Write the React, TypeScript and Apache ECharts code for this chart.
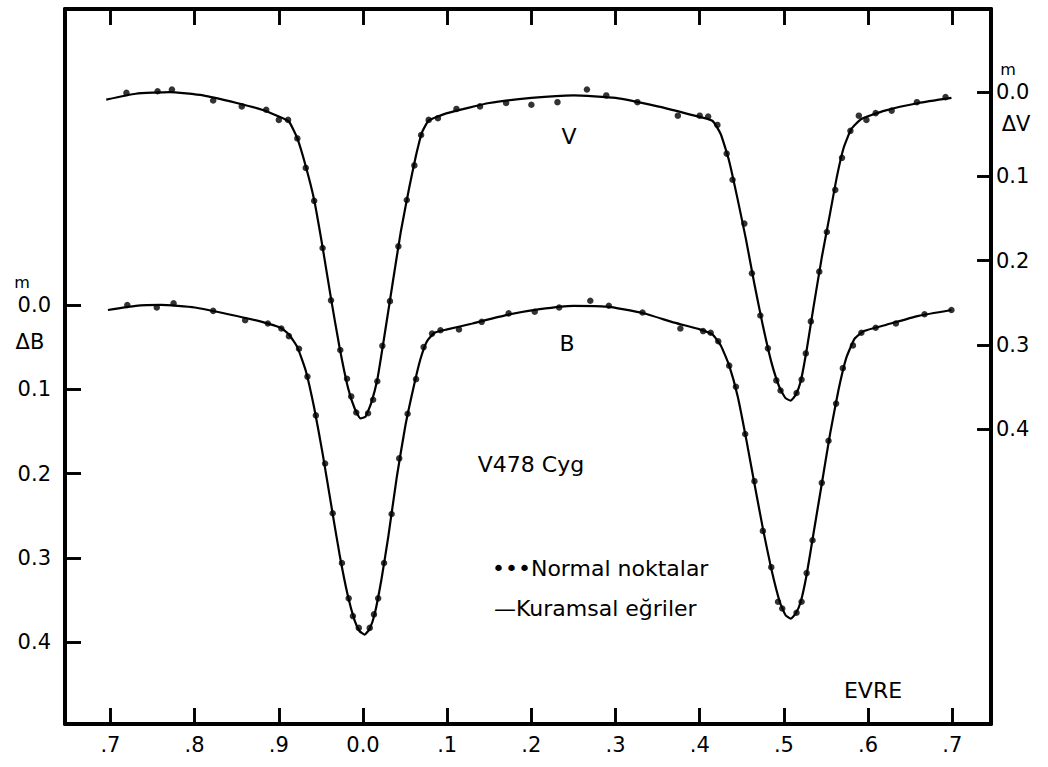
import React, { useEffect, useRef } from "react";
import * as echarts from "echarts";

// Phase tick positions and their printed labels
const phaseTicks = [-0.3, -0.2, -0.1, 0.0, 0.1, 0.2, 0.3, 0.4, 0.5, 0.6, 0.7];
const phaseTickLabels = [".7", ".8", ".9", "0.0", ".1", ".2", ".3", ".4", ".5", ".6", ".7"];
const magTicks = [0.0, 0.1, 0.2, 0.3, 0.4];

// V band: normal points [phase, ΔV]
const vPoints: [number, number][] = [
  [-0.281, 0.001], [-0.244, -0.001], [-0.227, -0.003], [-0.178, 0.010], [-0.144, 0.017],
  [-0.115, 0.021], [-0.100, 0.033], [-0.089, 0.033], [-0.078, 0.055], [-0.068, 0.090],
  [-0.058, 0.129], [-0.048, 0.185], [-0.038, 0.247], [-0.027, 0.306], [-0.019, 0.340],
  [-0.014, 0.361], [-0.008, 0.380], [0.006, 0.381], [0.012, 0.365], [0.017, 0.343],
  [0.023, 0.301], [0.032, 0.248], [0.042, 0.183], [0.052, 0.128], [0.061, 0.087],
  [0.069, 0.051], [0.078, 0.033], [0.089, 0.031], [0.111, 0.020], [0.139, 0.017],
  [0.170, 0.013], [0.200, 0.015], [0.231, 0.012], [0.266, -0.003], [0.289, 0.004],
  [0.326, 0.012], [0.374, 0.028], [0.400, 0.028], [0.410, 0.029], [0.421, 0.039],
  [0.432, 0.073], [0.439, 0.104], [0.453, 0.156], [0.462, 0.215], [0.472, 0.265],
  [0.481, 0.304], [0.491, 0.342], [0.496, 0.354], [0.515, 0.357], [0.521, 0.341],
  [0.526, 0.310], [0.532, 0.272], [0.542, 0.213], [0.551, 0.166], [0.561, 0.116],
  [0.569, 0.078], [0.579, 0.046], [0.589, 0.028], [0.598, 0.033], [0.609, 0.025],
  [0.628, 0.022], [0.658, 0.012], [0.692, 0.006],
];

// V band: theoretical curve [phase, ΔV]
const vCurve: [number, number][] = [
  [-0.305, 0.009], [-0.27, 0.002], [-0.23, 0.000], [-0.19, 0.004], [-0.15, 0.013],
  [-0.12, 0.021], [-0.10, 0.029], [-0.088, 0.035], [-0.078, 0.055], [-0.068, 0.088],
  [-0.058, 0.128], [-0.048, 0.184], [-0.038, 0.245], [-0.028, 0.302], [-0.018, 0.350],
  [-0.010, 0.375], [-0.003, 0.387], [0.003, 0.385], [0.010, 0.368], [0.017, 0.341],
  [0.025, 0.292], [0.035, 0.228], [0.045, 0.165], [0.055, 0.113], [0.063, 0.075],
  [0.070, 0.048], [0.078, 0.034], [0.10, 0.025], [0.15, 0.013], [0.20, 0.007],
  [0.25, 0.004], [0.30, 0.007], [0.35, 0.017], [0.39, 0.027], [0.415, 0.034],
  [0.425, 0.050], [0.435, 0.082], [0.445, 0.127], [0.455, 0.175], [0.465, 0.228],
  [0.475, 0.277], [0.485, 0.320], [0.495, 0.351], [0.502, 0.363], [0.508, 0.366],
  [0.514, 0.359], [0.520, 0.343], [0.527, 0.306], [0.535, 0.256], [0.545, 0.196],
  [0.555, 0.143], [0.563, 0.100], [0.571, 0.066], [0.580, 0.044], [0.592, 0.032],
  [0.62, 0.022], [0.66, 0.013], [0.699, 0.007],
];

// B band: normal points [phase, ΔB]
const bPoints: [number, number][] = [
  [-0.280, 0.000], [-0.245, 0.003], [-0.225, -0.002], [-0.178, 0.007], [-0.140, 0.018],
  [-0.113, 0.022], [-0.097, 0.028], [-0.088, 0.037], [-0.076, 0.052], [-0.066, 0.085],
  [-0.056, 0.131], [-0.045, 0.188], [-0.036, 0.247], [-0.025, 0.306], [-0.017, 0.348],
  [-0.012, 0.369], [-0.005, 0.383], [0.008, 0.383], [0.013, 0.367], [0.018, 0.348],
  [0.025, 0.306], [0.034, 0.248], [0.043, 0.182], [0.053, 0.129], [0.063, 0.088],
  [0.072, 0.050], [0.082, 0.034], [0.092, 0.030], [0.114, 0.029], [0.141, 0.020],
  [0.173, 0.010], [0.204, 0.008], [0.233, 0.003], [0.270, -0.005], [0.292, 0.001],
  [0.332, 0.009], [0.377, 0.028], [0.404, 0.031], [0.413, 0.033], [0.422, 0.043],
  [0.435, 0.072], [0.443, 0.097], [0.454, 0.153], [0.465, 0.209], [0.475, 0.268],
  [0.485, 0.311], [0.493, 0.352], [0.498, 0.360], [0.515, 0.365], [0.521, 0.352],
  [0.527, 0.318], [0.534, 0.279], [0.545, 0.211], [0.553, 0.161], [0.562, 0.117],
  [0.570, 0.075], [0.582, 0.048], [0.592, 0.033], [0.609, 0.027], [0.633, 0.022],
  [0.667, 0.011], [0.699, 0.006],
];

// B band: theoretical curve [phase, ΔB]
const bCurve: [number, number][] = [
  [-0.303, 0.006], [-0.27, 0.001], [-0.24, 0.000], [-0.20, 0.003], [-0.16, 0.011],
  [-0.12, 0.020], [-0.098, 0.027], [-0.088, 0.035], [-0.078, 0.050], [-0.068, 0.078],
  [-0.058, 0.122], [-0.048, 0.176], [-0.038, 0.236], [-0.028, 0.295], [-0.018, 0.345],
  [-0.010, 0.374], [-0.004, 0.387], [0.002, 0.391], [0.008, 0.384], [0.014, 0.366],
  [0.022, 0.325], [0.030, 0.275], [0.040, 0.205], [0.050, 0.145], [0.060, 0.098],
  [0.068, 0.065], [0.076, 0.043], [0.085, 0.033], [0.10, 0.029], [0.13, 0.022],
  [0.17, 0.012], [0.21, 0.005], [0.25, 0.001], [0.29, 0.002], [0.33, 0.009],
  [0.37, 0.021], [0.40, 0.029], [0.415, 0.035], [0.425, 0.048], [0.435, 0.072],
  [0.445, 0.108], [0.455, 0.158], [0.465, 0.212], [0.475, 0.265], [0.485, 0.313],
  [0.495, 0.352], [0.502, 0.368], [0.508, 0.372], [0.514, 0.366], [0.520, 0.352],
  [0.527, 0.320], [0.535, 0.272], [0.545, 0.212], [0.555, 0.152], [0.565, 0.100],
  [0.574, 0.063], [0.584, 0.040], [0.595, 0.031], [0.62, 0.024], [0.66, 0.013],
  [0.699, 0.006],
];

// axis ranges (frame edges)
const X_MIN = -0.354;
const X_MAX = 0.746;
const B_MIN = -0.351;
const B_MAX = 0.497;
const V_MIN = -0.0985;
const V_MAX = 0.7495;
// tick lengths in data units (about 16 px)
const X_TICK = 0.019;
const Y_TICK = 0.019;

const FONT = "DejaVu Sans, Liberation Sans, sans-serif";

export default function App() {
  const ref = useRef<HTMLDivElement>(null);
  useEffect(() => {
    if (!ref.current) return;
    const chart = echarts.init(ref.current, null, { renderer: "svg" });
    const phaseLabel = (v: number) => {
      const i = Math.round((v + 0.3) * 10);
      return phaseTickLabels[i] ?? "";
    };
    const axisLine = { show: true, onZero: false, lineStyle: { color: "#000", width: 4 } };
    const nativeTick = (values: number[]) => ({
      show: true,
      inside: true,
      length: 16,
      customValues: values,
      lineStyle: { color: "#000", width: 2.6 },
    });
    const labelStyle = { color: "#000", fontSize: 21, fontFamily: FONT };
    const txt = (x: number, y: number, text: string, size: number, align = "center") => ({
      type: "text",
      x,
      y,
      style: { text, font: `${size}px ${FONT}`, fill: "#000", align, verticalAlign: "middle" },
    });
    const seg = (a: number[], b: number[]) => [{ coord: a }, { coord: b }];
    const bTickLines = [
      ...phaseTicks.map((v) => seg([v, B_MAX], [v, B_MAX - Y_TICK])),
      ...phaseTicks.map((v) => seg([v, B_MIN], [v, B_MIN + Y_TICK])),
      ...magTicks.map((v) => seg([X_MIN, v], [X_MIN + X_TICK, v])),
    ];
    const vTickLines = magTicks.map((v) => seg([X_MAX, v], [X_MAX - X_TICK * 0.85, v]));
    const markTicks = (data: any[]) => ({
      silent: true,
      symbol: ["none", "none"],
      label: { show: false },
      lineStyle: { color: "#000", width: 2.6, type: "solid" },
      emphasis: { disabled: true },
      data,
    });
    chart.setOption({
      animation: false,
      backgroundColor: "#fff",
      grid: { left: 65, top: 9, right: 57, bottom: 43, containLabel: false },
      xAxis: [
        {
          type: "value",
          position: "bottom",
          min: X_MIN,
          max: X_MAX,
          splitLine: { show: false },
          axisLine,
          axisTick: nativeTick(phaseTicks),
          axisLabel: { show: true, customValues: phaseTicks, formatter: phaseLabel, margin: 10, ...labelStyle },
        },
        {
          type: "value",
          position: "top",
          min: X_MIN,
          max: X_MAX,
          splitLine: { show: false },
          axisLine,
          axisTick: nativeTick(phaseTicks),
          axisLabel: { show: false },
        },
      ],
      yAxis: [
        {
          type: "value",
          position: "left",
          inverse: true,
          min: B_MIN,
          max: B_MAX,
          splitLine: { show: false },
          axisLine,
          axisTick: nativeTick(magTicks),
          axisLabel: { show: true, customValues: magTicks, formatter: (v: number) => v.toFixed(1), margin: 14, ...labelStyle },
        },
        {
          type: "value",
          position: "right",
          inverse: true,
          min: V_MIN,
          max: V_MAX,
          splitLine: { show: false },
          axisLine,
          axisTick: { ...nativeTick(magTicks), length: 14 },
          axisLabel: { show: true, customValues: magTicks, formatter: (v: number) => v.toFixed(1), margin: 5, ...labelStyle },
        },
      ],
      series: [
        {
          name: "V kuramsal",
          type: "line",
          xAxisIndex: 0,
          yAxisIndex: 1,
          data: vCurve,
          smooth: 0.15,
          showSymbol: false,
          lineStyle: { color: "#000", width: 2.2 },
          markLine: markTicks(vTickLines),
        },
        {
          name: "V normal",
          type: "scatter",
          xAxisIndex: 0,
          yAxisIndex: 1,
          data: vPoints,
          symbol: "circle",
          symbolSize: 6.5,
          itemStyle: { color: "#000" },
        },
        {
          name: "B kuramsal",
          type: "line",
          xAxisIndex: 0,
          yAxisIndex: 0,
          data: bCurve,
          smooth: 0.15,
          showSymbol: false,
          lineStyle: { color: "#000", width: 2.2 },
          markLine: markTicks(bTickLines),
        },
        {
          name: "B normal",
          type: "scatter",
          xAxisIndex: 0,
          yAxisIndex: 0,
          data: bPoints,
          symbol: "circle",
          symbolSize: 6.5,
          itemStyle: { color: "#000" },
        },
      ],
      graphic: [
        txt(569, 136, "V", 22),
        txt(567, 343, "B", 22),
        txt(531, 464, "V478 Cyg", 22),
        txt(492, 568, "•••Normal noktalar", 22, "left"),
        txt(494, 608, "—Kuramsal eğriler", 22, "left"),
        txt(873, 690, "EVRE", 22),
        txt(22, 282, "m", 16),
        txt(30, 342, "ΔB", 21),
        txt(1008, 69, "m", 16),
        txt(1016, 124, "ΔV", 21),
      ],
    });
    return () => chart.dispose();
  }, []);
  return (
    <div
      ref={ref}
      style={{ position: "fixed", left: 0, top: 0, width: 1048, height: 767, background: "#fff" }}
    />
  );
}
